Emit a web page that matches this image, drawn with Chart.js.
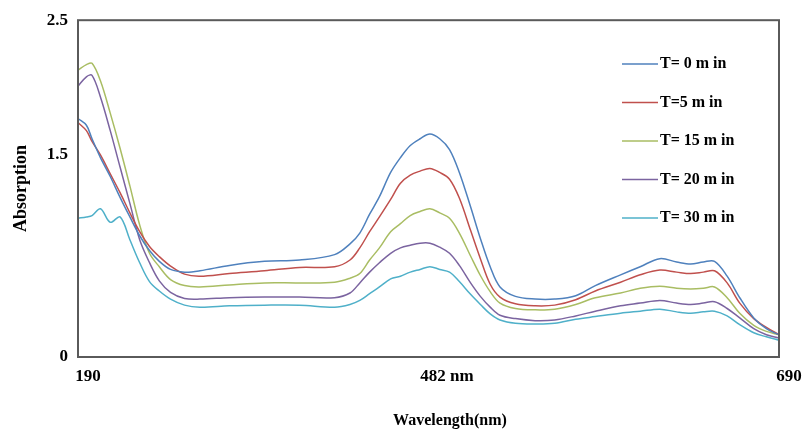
<!DOCTYPE html>
<html>
<head>
<meta charset="utf-8">
<script src="https://cdn.jsdelivr.net/npm/chart.js@4/dist/chart.umd.min.js"></script>
<style>
  body { margin: 0; background: #fff; }
  #wrap { width: 803px; height: 429px; }
</style>
</head>
<body>
<div id="wrap"><canvas id="spectraChart" width="803" height="429"></canvas></div>
<script>
// wavelengths (nm) of the sampled points
const wavelengths = [190, 196, 200, 206, 213, 220, 227, 234, 241, 248,
  256, 266, 277, 298, 323, 348, 373, 384, 391, 398,
  405, 413, 420, 427, 434, 441, 448, 455, 462, 470,
  477, 484, 491, 502, 516, 530, 545, 559, 577, 591,
  605, 617, 627, 636, 644, 653, 662, 672, 681, 690];

const seriesLabels = ['T= 0 m in', 'T=5 m in', 'T= 15 m in', 'T= 20 m in', 'T= 30 m in'];
const seriesColors = ['#4f81bd', '#c0504d', '#a9bd63', '#7b64a0', '#4fb0c9'];

const t0 = [1.77, 1.72, 1.62, 1.48, 1.34, 1.185, 1.04, 0.90, 0.79, 0.71,
  0.65, 0.63, 0.64, 0.68, 0.71, 0.72, 0.76, 0.84, 0.92, 1.06,
  1.19, 1.37, 1.48, 1.57, 1.62, 1.655, 1.62, 1.54, 1.37, 1.115,
  0.88, 0.67, 0.52, 0.45, 0.43, 0.43, 0.455, 0.53, 0.61, 0.67,
  0.73, 0.705, 0.69, 0.705, 0.71, 0.60, 0.44, 0.29, 0.21, 0.165];
const t5 = [1.74, 1.68, 1.60, 1.50, 1.36, 1.22, 1.07, 0.93, 0.82, 0.745,
  0.675, 0.615, 0.60, 0.62, 0.64, 0.665, 0.67, 0.72, 0.81, 0.93,
  1.04, 1.17, 1.29, 1.35, 1.38, 1.40, 1.37, 1.32, 1.18, 0.94,
  0.73, 0.54, 0.445, 0.395, 0.38, 0.385, 0.425, 0.49, 0.555, 0.61,
  0.645, 0.63, 0.62, 0.63, 0.64, 0.55, 0.40, 0.285, 0.22, 0.165];
const t15 = [2.13, 2.17, 2.18, 2.05, 1.81, 1.55, 1.27, 0.98, 0.77, 0.67,
  0.575, 0.53, 0.52, 0.535, 0.55, 0.55, 0.555, 0.585, 0.62, 0.72,
  0.81, 0.93, 0.99, 1.05, 1.08, 1.10, 1.07, 1.03, 0.92, 0.75,
  0.605, 0.485, 0.40, 0.36, 0.35, 0.355, 0.39, 0.44, 0.475, 0.51,
  0.525, 0.51, 0.505, 0.51, 0.52, 0.44, 0.325, 0.235, 0.19, 0.165];
const t20 = [2.01, 2.08, 2.09, 1.93, 1.68, 1.41, 1.14, 0.87, 0.70, 0.565,
  0.48, 0.435, 0.43, 0.44, 0.445, 0.445, 0.44, 0.475, 0.55, 0.63,
  0.70, 0.77, 0.81, 0.83, 0.845, 0.845, 0.815, 0.77, 0.68, 0.55,
  0.45, 0.37, 0.31, 0.285, 0.27, 0.275, 0.305, 0.34, 0.38, 0.40,
  0.42, 0.40, 0.39, 0.40, 0.41, 0.36, 0.29, 0.21, 0.165, 0.14];
const t30 = [1.03, 1.04, 1.05, 1.10, 1.00, 1.04, 0.87, 0.70, 0.56, 0.49,
  0.43, 0.385, 0.37, 0.38, 0.385, 0.385, 0.37, 0.39, 0.42, 0.47,
  0.52, 0.58, 0.60, 0.63, 0.65, 0.67, 0.65, 0.63, 0.56, 0.465,
  0.39, 0.32, 0.275, 0.25, 0.245, 0.25, 0.28, 0.30, 0.325, 0.34,
  0.355, 0.335, 0.325, 0.335, 0.34, 0.305, 0.24, 0.18, 0.15, 0.125];
const allSeries = [t0, t5, t15, t20, t30];

// axis ticks as printed in the reference
const xTickValues = [190, 446, 690];
const xTickLabels = ['190', '482 nm', '690'];
const yTickValues = [0, 1.5, 2.5];
const xTitle = 'Wavelength(nm)';
const yTitle = 'Absorption';

const serif = "'Liberation Serif', 'Times New Roman', serif";

const plotFrame = {
  id: 'plotFrame',
  afterDatasetsDraw(chart) {
    const a = chart.chartArea;
    const c = chart.ctx;
    c.save();
    c.strokeStyle = '#5a5a5a';
    c.lineWidth = 2;
    c.strokeRect(a.left, a.top, a.right - a.left, a.bottom - a.top);
    c.restore();
  }
};

// legend sits inside the plot, top right
const insideLegend = {
  id: 'insideLegend',
  afterDraw(chart) {
    const c = chart.ctx;
    c.save();
    c.font = 'bold 16px ' + serif;
    c.textBaseline = 'middle';
    c.fillStyle = '#000';
    chart.data.datasets.forEach((ds, i) => {
      const y = 64 + i * 38.5;
      c.strokeStyle = ds.borderColor;
      c.lineWidth = 1.5;
      c.beginPath();
      c.moveTo(622, y);
      c.lineTo(658, y);
      c.stroke();
      c.fillText(ds.label, 660, y);
    });
    // x axis title
    c.font = 'bold 16px ' + serif;
    c.textAlign = 'center';
    c.fillText(xTitle, 450, 421);
    c.restore();
  }
};

const ctx = document.getElementById('spectraChart').getContext('2d');
const spectraChart = new Chart(ctx, {
  type: 'line',
  data: {
    datasets: allSeries.map((vals, i) => ({
      label: seriesLabels[i],
      data: wavelengths.map((w, j) => ({ x: w, y: vals[j] })),
      borderColor: seriesColors[i],
      borderWidth: 1.5,
      pointRadius: 0,
      tension: 0.35,
      fill: false
    }))
  },
  options: {
    responsive: false,
    animation: false,
    devicePixelRatio: 1,
    layout: { padding: { top: 20, right: 24, left: 0, bottom: 0 } },
    plugins: {
      legend: { display: false },
      tooltip: { enabled: false }
    },
    scales: {
      x: {
        type: 'linear',
        min: 190,
        max: 690,
        grid: { display: false, drawTicks: false },
        border: { display: false },
        afterBuildTicks: (scale) => {
          scale.ticks = xTickValues.map(v => ({ value: v }));
        },
        afterFit: (scale) => { scale.height = 72; },
        ticks: {
          autoSkip: false,
          maxRotation: 0,
          labelOffset: 10,
          padding: 9,
          color: '#000',
          font: { family: serif, size: 17, weight: 'bold' },
          callback: (value, index) => xTickLabels[index]
        }
      },
      y: {
        min: 0,
        max: 2.5,
        grid: { display: false, drawTicks: false },
        border: { display: false },
        afterBuildTicks: (scale) => {
          scale.ticks = yTickValues.map(v => ({ value: v }));
        },
        afterFit: (scale) => { scale.width = 78; },
        ticks: {
          padding: 10,
          color: '#000',
          font: { family: serif, size: 17, weight: 'bold' },
          callback: (value) => String(value)
        },
        title: {
          display: true,
          text: yTitle,
          color: '#000',
          font: { family: serif, size: 18, weight: 'bold' },
          padding: { top: 11, bottom: 0 }
        }
      }
    }
  },
  plugins: [plotFrame, insideLegend]
});
</script>
</body>
</html>
